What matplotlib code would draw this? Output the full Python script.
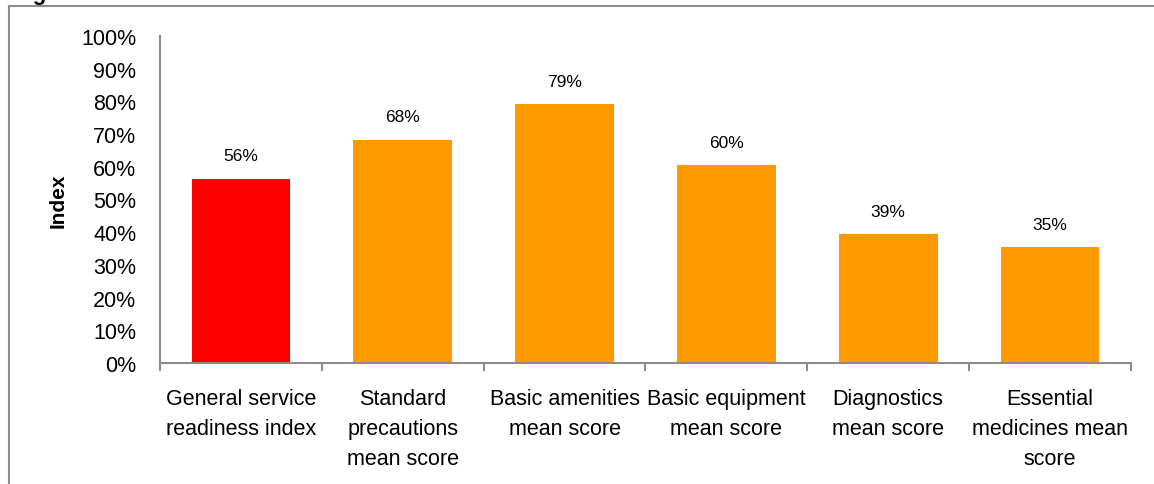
import matplotlib
matplotlib.use("Agg")
import matplotlib.pyplot as plt
from matplotlib.lines import Line2D
from matplotlib.ticker import FixedLocator, PercentFormatter

plt.rcParams['font.family'] = ['Liberation Sans', 'DejaVu Sans']

categories = ["General service\nreadiness index",
              "Standard\nprecautions\nmean score",
              "Basic amenities\nmean score",
              "Basic equipment\nmean score",
              "Diagnostics\nmean score",
              "Essential\nmedicines mean\nscore"]
scores = [56.4, 68.3, 79.2, 60.4, 39.4, 35.4]
labels = ["56%", "68%", "79%", "60%", "39%", "35%"]
colors = ["#ff0000", "#ff9900", "#ff9900", "#ff9900", "#ff9900", "#ff9900"]

grey = "#8c8c8c"

fig = plt.figure(figsize=(11.54, 4.85), dpi=100)
ax = fig.add_axes([0.1386, 0.2495, 0.8414, 0.6742])

x = range(len(categories))
bars = ax.bar(x, scores, width=0.61, color=colors)
for b, lab in zip(bars, labels):
    ax.annotate(lab, (b.get_x() + b.get_width() / 2, b.get_height()),
                xytext=(0, 11), textcoords="offset points",
                ha="center", va="bottom", fontsize=12.5)

ax.set_xlim(-0.5, len(categories) - 0.5)
ax.set_ylim(0, 100)
ax.set_yticks(range(0, 101, 10))
ax.yaxis.set_major_formatter(PercentFormatter(decimals=0))
ax.tick_params(axis="y", length=0, pad=17, labelsize=15.5)

ax.set_xticks(list(x))
ax.set_xticklabels(categories, fontsize=15.5, linespacing=1.55)
ax.xaxis.set_minor_locator(FixedLocator([i - 0.5 for i in range(len(categories) + 1)]))
ax.tick_params(axis="x", which="major", length=0, pad=18)
ax.tick_params(axis="x", which="minor", length=6, width=1.5, color=grey)

for s in ["top", "right"]:
    ax.spines[s].set_visible(False)
for s in ["left", "bottom"]:
    ax.spines[s].set_color(grey)
    ax.spines[s].set_linewidth(1.5)

ax.set_ylabel("Index", fontsize=15, fontweight="bold", labelpad=10)

# outer frame around the chart area
fig.add_artist(Line2D([0.0078, 1.0], [0.9856, 0.9856], color=grey, lw=1.5))
fig.add_artist(Line2D([0.0078, 0.0078], [0.0, 0.9856], color=grey, lw=1.5))
fig.text(0.0113, 0.999, "Figure", fontsize=16, fontweight="bold", va="baseline")

fig.savefig("out.png", dpi=100)
